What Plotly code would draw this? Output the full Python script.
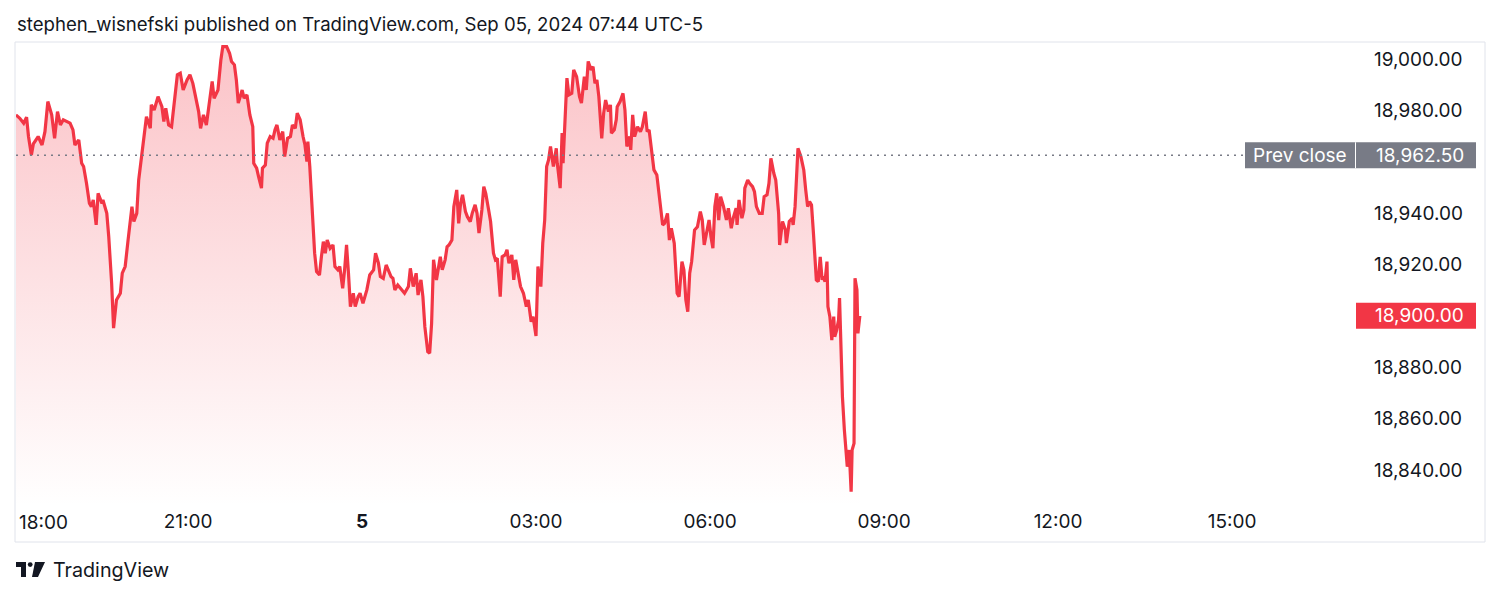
import plotly.graph_objects as go

# ---- data (exchange time, Sep 4 evening -> Sep 5 morning) ----
times = [
    "18:02","18:06","18:10","18:13","18:15","18:18","18:20","18:25","18:29","18:32",
    "18:35","18:39","18:42","18:45","18:48","18:51","18:58","19:01","19:03","19:07",
    "19:10","19:12","19:15","19:18","19:20","19:22","19:25","19:27","19:31","19:32",
    "19:36","19:38","19:41","19:43","19:46","19:50","19:52","19:55","19:58","20:02",
    "20:04","20:07","20:09","20:12","20:16","20:17","20:21","20:22","20:25","20:29",
    "20:33","20:35","20:37","20:40","20:43","20:47","20:49","20:52","20:55","20:59",
    "21:02","21:05","21:08","21:11","21:13","21:16","21:19","21:22","21:25","21:27",
    "21:31","21:34","21:36","21:40","21:43","21:45","21:48","21:50","21:52","21:54",
    "21:56","21:58","22:01","22:04","22:07","22:08","22:11","22:13","22:16","22:17",
    "22:20","22:22","22:25","22:28","22:30","22:32","22:35","22:38","22:40","22:43",
    "22:46","22:48","22:51","22:53","22:56","22:59","23:01","23:03","23:04","23:06",
    "23:08","23:10","23:11","23:13","23:16","23:18","23:20","23:22","23:24","23:27",
    "23:30","23:32","23:35","23:37","23:40","23:42","23:44","23:46","23:48","23:51",
    "23:53","23:56","23:58","00:01","00:05","00:08","00:12","00:14","00:17","00:19",
    "00:22","00:25","00:27","00:30","00:32","00:34","00:37","00:41","00:44","00:48",
    "00:50","00:53","00:56","00:58","01:01","01:03","01:05","01:08","01:10","01:12",
    "01:14","01:17","01:19","01:21","01:23","01:26","01:28","01:30","01:33","01:35",
    "01:38","01:40","01:42","01:44","01:47","01:49","01:52","01:54","01:57","01:59",
    "02:01","02:04","02:06","02:08","02:11","02:13","02:16","02:18","02:20","02:23",
    "02:25","02:28","02:30","02:32","02:35","02:37","02:39","02:42","02:44","02:47",
    "02:50","02:52","02:55","02:57","03:00","03:02","03:05","03:07","03:09","03:11",
    "03:13","03:15","03:18","03:21","03:22","03:25","03:27","03:28","03:30","03:32",
    "03:34","03:37","03:39","03:42","03:45","03:47","03:50","03:52","03:54","03:57",
    "03:59","04:01","04:03","04:05","04:08","04:10","04:12","04:15","04:17","04:18",
    "04:21","04:23","04:24","04:27","04:30","04:32","04:34","04:37","04:38","04:40",
    "04:42","04:45","04:48","04:50","04:53","04:55","04:57","05:00","05:02","05:05",
    "05:07","05:09","05:11","05:13","05:16","05:18","05:20","05:23","05:25","05:26",
    "05:28","05:31","05:33","05:35","05:37","05:39","05:41","05:44","05:47","05:50",
    "05:52","05:54","05:57","05:59","06:01","06:03","06:05","06:07","06:09","06:11",
    "06:14","06:17","06:19","06:22","06:24","06:27","06:28","06:30","06:33","06:35",
    "06:36","06:39","06:41","06:44","06:46","06:48","06:51","06:54","06:56","06:59",
    "07:01","07:03","07:06","07:08","07:11","07:12","07:15","07:18","07:19","07:22",
    "07:25","07:26","07:28","07:30","07:31","07:34","07:37","07:39","07:41","07:43",
    "07:45","07:47","07:49","07:50","07:52","07:54","07:56","07:57","07:59","08:01",
    "08:02","08:04","08:06","08:08","08:09","08:11","08:13","08:14","08:16","08:17",
    "08:19","08:21","08:22","08:24","08:26","08:27","08:29","08:30","08:32","08:33",
    "08:35",
]
prices = [
    18978.2,18976.9,18975.0,18977.3,18969.8,18962.6,18966.9,18969.8,18966.5,18971.7,
    18983.4,18978.2,18969.1,18979.5,18974.3,18976.3,18975.0,18972.4,18966.5,18968.5,
    18959.4,18958.1,18951.6,18943.8,18942.5,18945.1,18935.4,18947.7,18943.8,18945.1,
    18939.9,18930.8,18912.7,18895.2,18906.2,18908.8,18916.6,18919.2,18929.5,18942.5,
    18936.7,18939.9,18952.9,18962.6,18973.6,18977.5,18973.0,18982.1,18980.1,18985.3,
    18981.4,18975.6,18980.8,18974.3,18973.6,18986.6,18993.8,18994.4,18987.9,18991.8,
    18993.8,18990.5,18985.3,18979.5,18973.0,18978.2,18974.3,18982.1,18991.2,18984.7,
    18987.9,18999.6,19004.8,19004.8,19002.2,18999.0,18997.7,18991.8,18982.8,18985.3,
    18987.9,18984.7,18986.0,18978.2,18973.6,18959.4,18957.5,18954.2,18949.7,18957.5,
    18958.7,18967.2,18969.8,18969.1,18972.4,18974.3,18968.5,18971.7,18962.0,18969.1,
    18969.8,18974.3,18973.0,18978.9,18976.3,18969.8,18966.5,18960.0,18967.8,18958.1,
    18945.1,18930.8,18924.4,18917.2,18915.9,18923.0,18928.9,18924.4,18929.5,18926.3,
    18927.6,18919.2,18917.9,18919.2,18910.7,18917.9,18927.6,18916.6,18903.6,18908.8,
    18903.6,18907.5,18908.8,18904.9,18910.1,18915.9,18917.9,18924.4,18920.5,18915.3,
    18914.6,18919.8,18917.9,18915.3,18914.6,18910.1,18912.0,18910.1,18908.8,18911.4,
    18918.5,18911.4,18916.6,18908.1,18914.0,18907.5,18895.8,18886.1,18885.5,18897.1,
    18921.8,18914.0,18917.9,18923.0,18917.9,18921.8,18926.9,18927.6,18929.5,18942.5,
    18949.0,18936.0,18943.8,18947.1,18940.6,18938.6,18936.7,18939.9,18943.2,18939.9,
    18932.2,18941.2,18950.3,18947.7,18941.2,18936.7,18924.4,18921.8,18922.4,18907.5,
    18923.0,18923.7,18925.7,18920.5,18923.7,18914.0,18921.8,18915.3,18911.4,18908.8,
    18903.6,18906.2,18897.7,18899.7,18892.2,18919.2,18911.4,18928.3,18937.3,18958.1,
    18960.7,18965.9,18958.1,18965.2,18959.4,18949.7,18971.1,18959.4,18975.0,18992.5,
    18986.0,18986.6,18995.7,18993.1,18985.3,18982.8,18993.1,18987.9,18999.0,18995.7,
    18997.0,18990.5,18991.8,18985.3,18969.1,18978.9,18984.0,18979.5,18982.1,18971.1,
    18972.4,18976.3,18981.4,18983.4,18986.6,18980.1,18965.9,18969.8,18964.6,18978.2,
    18969.8,18973.6,18971.7,18973.6,18979.5,18971.7,18972.4,18963.3,18956.8,18954.8,
    18949.0,18942.5,18935.4,18936.0,18939.9,18929.5,18934.1,18928.3,18914.0,18908.8,
    18907.5,18921.1,18917.9,18906.2,18901.6,18916.6,18921.1,18933.4,18934.7,18940.6,
    18937.3,18927.6,18933.4,18937.3,18930.8,18926.3,18942.5,18947.7,18937.3,18946.4,
    18942.5,18937.3,18941.9,18934.1,18938.0,18941.9,18935.4,18945.1,18938.0,18941.2,
    18949.7,18952.9,18951.6,18950.3,18948.3,18942.5,18939.9,18939.9,18946.4,18947.1,
    18951.6,18961.3,18955.5,18952.9,18939.9,18927.6,18936.7,18933.4,18928.3,18936.7,
    18938.0,18935.4,18942.5,18958.1,18965.2,18962.0,18956.8,18949.0,18942.5,18944.5,
    18943.2,18932.2,18921.8,18914.0,18913.3,18923.0,18914.0,18915.3,18913.3,18921.1,
    18903.6,18899.7,18890.6,18899.7,18891.9,18894.5,18898.4,18906.9,18881.5,18868.5,
    18855.6,18847.8,18841.3,18847.8,18831.6,18847.8,18850.4,18914.6,18910.1,18893.2,
    18900.0,
]
prev_close = 18962.50
last_price = 18900.00
y_tick_values = [19000, 18980, 18940, 18920, 18880, 18860, 18840]
x_tick_values = ["2024-09-04 21:00", "2024-09-05 00:00", "2024-09-05 03:00", "2024-09-05 06:00",
                 "2024-09-05 09:00", "2024-09-05 12:00", "2024-09-05 15:00"]
x_tick_labels = ["21:00", "<b>5</b>", "03:00", "06:00", "09:00", "12:00", "15:00"]
title_text = "stephen_wisnefski published on TradingView.com, Sep 05, 2024 07:44 UTC-5"

# build timestamps: evening values belong to Sep 4, the rest to Sep 5
stamps = [("2024-09-04 " if int(t[:2]) >= 18 else "2024-09-05 ") + t for t in times]

# ---- geometry (reference pixels; page body has an 8px margin) ----
OFF = 8
W, H = 1500 - 2 * OFF, 597 - 2 * OFF
PL, PR, PT, PB = 16 - OFF, 1355 - OFF, 44 - OFF, 505 - OFF
PW, PH = PR - PL, PB - PT


def px(x):
    return (x - OFF - PL) / PW


def py(y):
    return (PB - (y - OFF)) / PH


RED = "#f23645"
GREY = "#787b86"
TXT = "#131722"
FONT = "Inter, Roboto, 'Noto Sans', sans-serif"

fig = go.Figure()
fig.add_trace(go.Scatter(
    x=stamps, y=prices, mode="lines",
    line=dict(color=RED, width=3.2),
    fill="tozeroy",
    fillgradient=dict(type="vertical",
                      colorscale=[[0, "rgba(242,54,69,0.0)"], [1, "rgba(242,54,69,0.30)"]],
                      start=18826, stop=19005),
    hoverinfo="skip", showlegend=False,
))

shapes = [
    # outer frame
    dict(type="rect", xref="paper", yref="paper", x0=px(15), x1=px(1485), y0=py(542), y1=py(42),
         line=dict(color="#e0e3eb", width=1), fillcolor="rgba(0,0,0,0)", layer="below"),
    # previous close dotted line
    dict(type="line", xref="paper", yref="y", x0=0, x1=px(1245), y0=prev_close, y1=prev_close,
         line=dict(color=GREY, width=1.5, dash="2px,5px")),
    # prev close label box
    dict(type="rect", xref="paper", yref="y", ysizemode="pixel", yanchor=prev_close,
         x0=px(1245), x1=px(1476), y0=-13, y1=13, fillcolor=GREY, line=dict(width=0)),
    dict(type="line", xref="paper", yref="y", ysizemode="pixel", yanchor=prev_close,
         x0=px(1355.5), x1=px(1355.5), y0=-13, y1=13, line=dict(color="white", width=1)),
    # last price box
    dict(type="rect", xref="paper", yref="y", ysizemode="pixel", yanchor=last_price,
         x0=px(1356), x1=px(1476), y0=-13, y1=13, fillcolor=RED, line=dict(width=0)),
    # TradingView logo
    dict(type="path", xref="paper", yref="paper",
         path=f"M {px(16)},{py(562)} L {px(26)},{py(562)} L {px(26)},{py(577)} L {px(21)},{py(577)} "
              f"L {px(21)},{py(567)} L {px(16)},{py(567)} Z",
         fillcolor=TXT, line=dict(width=0)),
    dict(type="circle", xref="paper", yref="paper", x0=px(27.8), x1=px(32.6), y0=py(567), y1=py(562.2),
         fillcolor=TXT, line=dict(width=0)),
    dict(type="path", xref="paper", yref="paper",
         path=f"M {px(35)},{py(562)} L {px(45)},{py(562)} L {px(38)},{py(577)} L {px(32)},{py(577)} Z",
         fillcolor=TXT, line=dict(width=0)),
]

annotations = [
    dict(text=title_text, xref="paper", yref="paper", x=px(15), y=py(24), xanchor="left", yanchor="middle",
         showarrow=False, font=dict(size=18.6, color=TXT, family=FONT)),
    dict(text="18:00", xref="paper", yref="paper", x=px(17), y=py(522), xanchor="left", yanchor="middle",
         showarrow=False, font=dict(size=19, color=TXT, family=FONT)),
    dict(text="TradingView", xref="paper", yref="paper", x=px(51), y=py(570), xanchor="left", yanchor="middle",
         showarrow=False, font=dict(size=19.7, color=TXT, family=FONT)),
    dict(text="Prev close", xref="paper", yref="y", x=px(1300), y=prev_close, xanchor="center",
         yanchor="middle", showarrow=False, font=dict(size=19, color="white", family=FONT)),
    dict(text=f"{prev_close:,.2f}", xref="paper", yref="y", x=px(1466), y=prev_close, xanchor="right",
         yanchor="middle", showarrow=False, font=dict(size=19, color="white", family=FONT)),
    dict(text=f"{last_price:,.2f}", xref="paper", yref="y", x=px(1466), y=last_price, xanchor="right",
         yanchor="middle", showarrow=False, font=dict(size=19, color="white", family=FONT)),
]

fig.update_layout(
    width=W, height=H,
    margin=dict(l=PL, r=W - PR, t=PT, b=H - PB, pad=0),
    paper_bgcolor="white", plot_bgcolor="white",
    showlegend=False,
    font=dict(family=FONT, color=TXT, size=19),
    shapes=shapes, annotations=annotations,
    xaxis=dict(type="date", range=["2024-09-04 18:02:04", "2024-09-05 17:07:14"],
               tickmode="array", tickvals=x_tick_values, ticktext=x_tick_labels,
               showgrid=False, zeroline=False, showline=False, ticks="",
               ticklabelstandoff=3, tickfont=dict(size=19, color=TXT, family=FONT)),
    yaxis=dict(side="right", range=[18826.4, 19005.8], tickmode="array", tickvals=y_tick_values,
               tickformat=",.2f", showgrid=False, zeroline=False, showline=False, ticks="",
               ticklabelstandoff=18, tickfont=dict(size=19, color=TXT, family=FONT)),
)

fig.write_html("out.html")
